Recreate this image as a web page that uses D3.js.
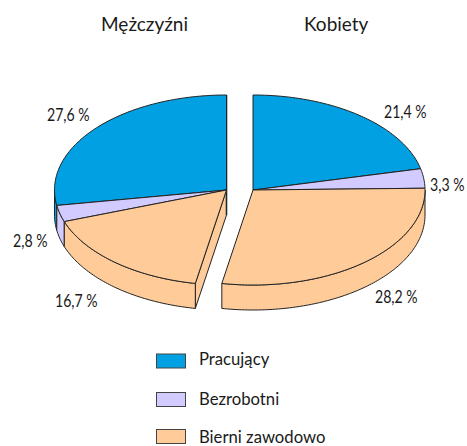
<!DOCTYPE html>
<html><head><meta charset="utf-8">
<script src="https://cdn.jsdelivr.net/npm/d3@7"></script>
<style>html,body{margin:0;padding:0;background:#fff}svg{display:block}text{font-family:Lato,"Open Sans",sans-serif;fill:#1a1a1a}</style>
</head><body><div id="c"></div>
<script>
const categories = ["Pracujący", "Bezrobotni", "Bierni zawodowo"];
const groups = ["Mężczyźni", "Kobiety"];
const menValues = [27.6, 2.8, 16.7];
const womenValues = [21.4, 3.3, 28.2];
const colors = ["#00A0E2", "#D2CBFF", "#FFCC99"];

const W = 467, H = 446, rx = 172, ry = 95, depth = 25, cy = 190;
const svg = d3.select("#c").append("svg").attr("width", W).attr("height", H);
const fmt = v => String(v).replace(".", ",") + " %";
const tau = 2 * Math.PI;
const total = d3.sum(menValues) + d3.sum(womenValues);
const angle = d3.scaleLinear().domain([0, total]).range([0, tau]);

// sign: +1 clockwise from 12 o'clock (right half), -1 counter-clockwise (left half)
function drawPie(values, cx, sign, labelPos) {
  const x = d3.scaleLinear().domain([-1, 1]).range([cx - rx, cx + rx]);
  const y = d3.scaleLinear().domain([-1, 1]).range([cy - ry, cy + ry]);
  const slices = d3.pie().sort(null).value(d => d)
    .startAngle(0).endAngle(sign * angle(d3.sum(values)))(values);
  const pt = (a, dz = 0) => [x(Math.sin(a)), y(-Math.cos(a)) + dz];
  const ctr = (dz = 0) => [x(0), y(0) + dz];
  const line = d3.line();
  const arcPts = (a0, a1, dz = 0) => {
    const n = Math.max(2, Math.ceil(Math.abs(a1 - a0) * 60));
    return d3.range(n + 1).map(i => pt(a0 + (a1 - a0) * i / n, dz));
  };
  const g = svg.append("g");
  const stroke = "#222";

  // cut face of the pie that faces the viewer
  if (sign < 0) {
    const last = slices[slices.length - 1];
    const e = last.endAngle;
    g.append("path")
      .attr("d", line([ctr(), pt(e), pt(e, depth), ctr(depth)]) + "Z")
      .attr("fill", colors[2]).attr("stroke", stroke).attr("stroke-width", 1);
    g.append("path")
      .attr("d", line([pt(0), ctr(depth)]))
      .attr("stroke", "#1c2c33").attr("stroke-width", 1.6).attr("fill", "none");
  }
  // outer wall: only the part of the rim on the front half
  slices.forEach((s, i) => {
    const lo = Math.min(Math.abs(s.startAngle), Math.abs(s.endAngle));
    const hi = Math.max(Math.abs(s.startAngle), Math.abs(s.endAngle));
    const a0 = Math.max(lo, Math.PI / 2), a1 = Math.min(hi, 3 * Math.PI / 2);
    if (a1 <= a0) return;
    const top = arcPts(sign * a0, sign * a1);
    const bot = arcPts(sign * a1, sign * a0, depth);
    g.append("path").attr("d", line(top.concat(bot)) + "Z")
      .attr("fill", colors[i]).attr("stroke", stroke).attr("stroke-width", 1);
  });
  // top faces
  slices.forEach((s, i) => {
    const pts = [ctr()].concat(arcPts(s.startAngle, s.endAngle));
    g.append("path").attr("d", line(pts) + "Z")
      .attr("fill", colors[i]).attr("stroke", stroke).attr("stroke-width", 1)
      .attr("stroke-linejoin", "round");
  });
  values.forEach((v, i) => {
    svg.append("text")
      .attr("transform", `translate(${labelPos[i][0]},${labelPos[i][1]}) scale(0.83,1)`)
      .attr("font-size", 17).text(fmt(v));
  });
}

drawPie(menValues, 226.5, -1, [[47, 121], [13, 247], [55, 307]]);
drawPie(womenValues, 253, 1, [[384, 118], [430, 191], [375, 303]]);

const titleX = [101, 304];
groups.forEach((t, i) => {
  svg.append("text").attr("x", titleX[i]).attr("y", 31).attr("font-size", 19).text(t);
});

const legendRectY = [354, 392.5, 429.5], legendTextY = [365, 405, 443];
categories.forEach((c, i) => {
  svg.append("rect").attr("x", 156.5).attr("y", legendRectY[i]).attr("width", 29).attr("height", 14)
    .attr("fill", colors[i]).attr("stroke", "#444").attr("stroke-width", 1);
  svg.append("text").attr("x", 199).attr("y", legendTextY[i]).attr("font-size", 16.7).text(c);
});
</script></body></html>
